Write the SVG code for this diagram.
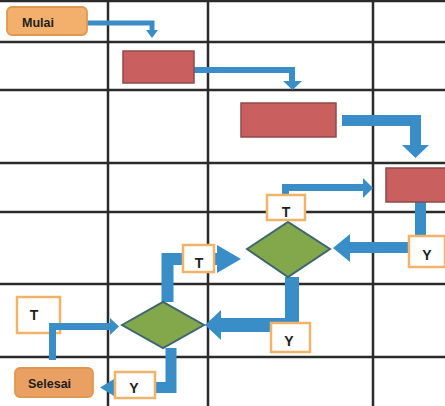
<svg xmlns="http://www.w3.org/2000/svg" width="445" height="406" viewBox="0 0 445 406">
  <style>
    .grid line { stroke: #2b2b2b; stroke-width: 2.5; }
    .flow { fill: none; stroke: #3a8ec8; stroke-linejoin: miter; stroke-linecap: butt; }
    .head { fill: #3a8ec8; }
    .term { stroke: #e09850; stroke-width: 1.8; }
    .proc { fill: #c9605f; stroke: #8d4a48; stroke-width: 1.5; }
    .dec { fill: #83a74b; stroke: #3d6670; stroke-width: 2; }
    .lbl { fill: #ffffff; stroke: #f0b468; stroke-width: 2.5; }
    .txt { font-family: "Liberation Sans", Arial, sans-serif; font-weight: bold; fill: #1e1e1e; }
    .big { font-size: 14px; text-anchor: middle; }
  </style>
  <rect width="445" height="406" fill="#ffffff"/>

  <!-- table grid -->
  <g class="grid">
    <line x1="0" y1="1" x2="445" y2="1"/>
    <line x1="0" y1="42" x2="445" y2="42"/>
    <line x1="0" y1="90" x2="445" y2="90"/>
    <line x1="0" y1="163" x2="445" y2="163"/>
    <line x1="0" y1="212" x2="445" y2="212"/>
    <line x1="0" y1="284" x2="445" y2="284"/>
    <line x1="0" y1="357" x2="445" y2="357"/>
    <line x1="108" y1="0" x2="108" y2="406"/>
    <line x1="208" y1="0" x2="208" y2="406"/>
    <line x1="373" y1="0" x2="373" y2="406"/>
  </g>

  <!-- this label sits under its outgoing connector -->
  <g id="label-t3">
    <rect class="lbl" x="17" y="297" width="43" height="36"/>
    <text class="txt big" x="34" y="320">T</text>
  </g>

  <!-- connectors -->
  <g id="connectors">
    <path class="flow" stroke-width="5" d="M87,23 H152 V30"/>
    <polygon class="head" points="146,30 158,30 152,38"/>

    <path class="flow" stroke-width="6" d="M194,70 H292 V81"/>
    <polygon class="head" points="283,81 302,81 292.5,90"/>

    <path class="flow" stroke-width="11" d="M342,120.5 H415.5 V146"/>
    <polygon class="head" points="402,145 429,145 415.5,158"/>

    <path class="flow" stroke-width="11" d="M420.5,202 V238"/>

    <path class="flow" stroke-width="11" d="M410,247.5 H349"/>
    <polygon class="head" points="350,234 350,262 333,248"/>

    <path class="flow" stroke-width="7" d="M285.5,196 V187.5 H364"/>
    <polygon class="head" points="363,178 363,198 373,188"/>

    <path class="flow" stroke-width="14" d="M292,277 V325 H220"/>
    <polygon class="head" points="221,310 221,340 205,325"/>

    <path class="flow" stroke-width="12" d="M167.5,302 V259 H218"/>
    <polygon class="head" points="217,245 217,273 241,259"/>

    <path class="flow" stroke-width="7" d="M52.5,360 V326.5 H111"/>
    <polygon class="head" points="110,318 110,335 119,326.5"/>

    <path class="flow" stroke-width="11" d="M171,348 V387.5 H113"/>
    <polygon class="head" points="114,379 114,396 100,387.5"/>
  </g>

  <!-- start / end -->
  <g id="mulai">
    <rect class="term" x="7" y="7" width="80" height="28" rx="5" fill="#f2b06c"/>
    <text class="txt" x="22" y="27" font-size="12.5">Mulai</text>
  </g>
  <g id="selesai">
    <rect class="term" x="15" y="368" width="78" height="29" rx="5" fill="#e9a062"/>
    <text class="txt" x="28" y="388" font-size="12.5">Selesai</text>
  </g>

  <!-- process steps -->
  <g id="proses1"><rect class="proc" x="123" y="51" width="71" height="32"/></g>
  <g id="proses2"><rect class="proc" x="241" y="103" width="95" height="34"/></g>
  <g id="proses3"><rect class="proc" x="386" y="168" width="64" height="34"/></g>

  <!-- decisions -->
  <g id="keputusan1"><polygon class="dec" points="247,249 288,222 330,249 288,277"/></g>
  <g id="keputusan2"><polygon class="dec" points="122,325 163,302 204,325 163,348"/></g>

  <!-- branch labels -->
  <g id="label-t1">
    <rect class="lbl" x="267" y="195" width="38" height="25"/>
    <text class="txt big" x="286" y="217">T</text>
  </g>
  <g id="label-y1">
    <rect class="lbl" x="409" y="236" width="36" height="31"/>
    <text class="txt big" x="427" y="260">Y</text>
  </g>
  <g id="label-t2">
    <rect class="lbl" x="183" y="245" width="31" height="27"/>
    <text class="txt big" x="199" y="268">T</text>
  </g>
  <g id="label-y2">
    <rect class="lbl" x="271" y="323" width="39" height="29"/>
    <text class="txt big" x="289" y="346">Y</text>
  </g>
  <g id="label-y3">
    <rect class="lbl" x="115" y="372" width="40" height="26"/>
    <text class="txt big" x="134" y="393">Y</text>
  </g>
</svg>
